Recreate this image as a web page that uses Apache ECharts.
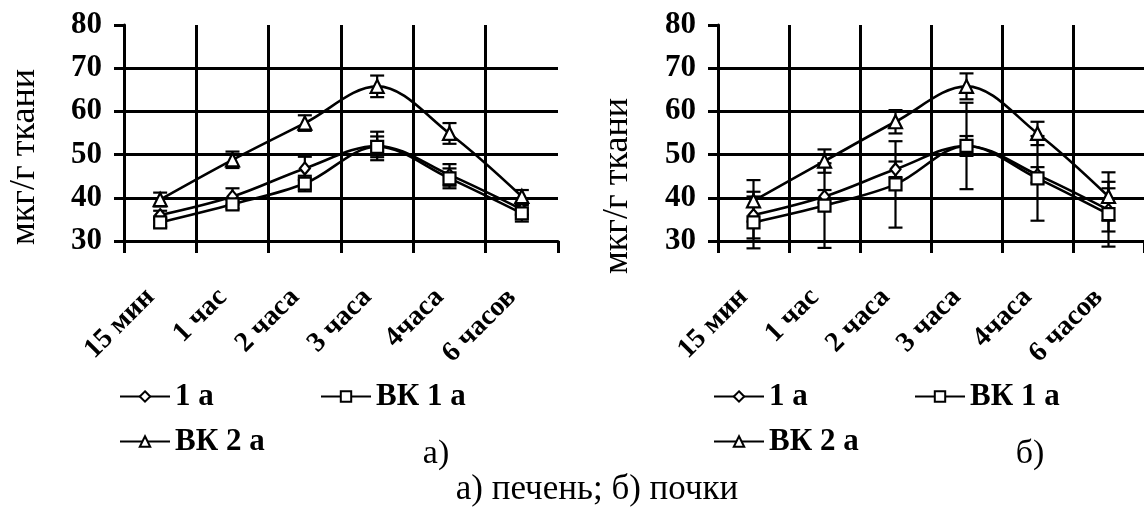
<!DOCTYPE html>
<html><head><meta charset="utf-8">
<script src="https://cdn.jsdelivr.net/npm/echarts@6/dist/echarts.min.js"></script>
<style>html,body{margin:0;padding:0;background:#fff}#c{width:1144px;height:508px}</style>
</head><body><div id="c"></div>
<script>
const categories = ['15 мин', '1 час', '2 часа', '3 часа', '4часа', '6 часов'];
const seriesNames = ['1 а', 'ВК 1 а', 'ВК 2 а'];
const yTicks = [30, 40, 50, 60, 70, 80];
// а) печень
const liver1a = [36, 40.3, 46.8, 52, 45.3, 37.3];
const liver1aErr = [1, 1.9, 2.7, 3.3, 2.5, 1.2];
const liverVK1a = [34.3, 38.5, 43.3, 51.8, 44.5, 36.4];
const liverVK1aErr = [1, 1, 1.8, 2.4, 2.3, 1.9];
const liverVK2a = [39.6, 48.8, 57.3, 65.8, 54.9, 40.3];
const liverVK2aErr = [1.6, 1.9, 1.8, 2.5, 2.4, 1.5];
// б) почки
const kidney1a = [36, 40.3, 46.6, 52, 45.3, 37.2];
const kidney1aErr = [5.4, 1.5, 1.8, 2.3, 1.8, 5];
const kidneyVK1a = [34.3, 38.2, 43.1, 52, 44.5, 36.2];
const kidneyVK1aErr = [6, 9.8, 10, 10, 9.8, 7.5];
const kidneyVK2a = [39.3, 48.5, 57.6, 65.8, 54.9, 40.3];
const kidneyVK2aErr = [4.8, 2.7, 2.7, 3, 2.7, 5.6];

const FONT = 'Liberation Serif';
const symbols = ['diamond', 'rect', 'triangle'];
const symSizes = [[10, 12], 12, 13];

function errData(vals, errs) { return vals.map((v, i) => [i, v - errs[i], v + errs[i]]); }

function errSeries(gi, vals, errs) {
  return {
    type: 'custom', xAxisIndex: gi, yAxisIndex: gi, z: 1, silent: true,
    data: errData(vals, errs), encode: { x: 0, y: [1, 2] },
    renderItem: function (params, api) {
      const lo = api.coord([api.value(0), api.value(1)]);
      const hi = api.coord([api.value(0), api.value(2)]);
      const w = 7;
      const st = { stroke: '#000', lineWidth: 2.2, fill: null };
      return { type: 'group', children: [
        { type: 'line', shape: { x1: lo[0], y1: lo[1], x2: hi[0], y2: hi[1] }, style: st },
        { type: 'line', shape: { x1: lo[0] - w, y1: lo[1], x2: lo[0] + w, y2: lo[1] }, style: st },
        { type: 'line', shape: { x1: hi[0] - w, y1: hi[1], x2: hi[0] + w, y2: hi[1] }, style: st }
      ] };
    }
  };
}

function lineSeries(gi, k, vals) {
  return {
    type: 'line', name: seriesNames[k], xAxisIndex: gi, yAxisIndex: gi, z: 3,
    data: vals, smooth: 0.35, symbol: symbols[k], symbolSize: symSizes[k],
    showAllSymbol: true,
    lineStyle: { color: '#000', width: 2.6 },
    itemStyle: { color: '#fff', borderColor: '#000', borderWidth: 2.2 }
  };
}

function xAxis(gi) {
  return {
    type: 'category', gridIndex: gi, data: categories, boundaryGap: true,
    axisLine: { show: true, lineStyle: { color: '#000', width: 3 } },
    axisTick: { show: true, length: 12, lineStyle: { color: '#000', width: 3 } },
    splitLine: { show: true, lineStyle: { color: ['#000', '#000', '#000', '#000', '#000', '#000', 'rgba(0,0,0,0)'], width: 3 } },
    axisLabel: { rotate: 45, margin: 62, verticalAlign: 'bottom', interval: 0, color: '#000', fontFamily: FONT, fontWeight: 'bold', fontSize: 28 }
  };
}
function yAxis(gi) {
  return {
    type: 'value', gridIndex: gi, min: yTicks[0], max: yTicks[yTicks.length - 1], interval: 10,
    axisLine: { show: true, lineStyle: { color: '#000', width: 3 } },
    axisTick: { show: true, length: 10, lineStyle: { color: '#000', width: 3 } },
    splitLine: { show: true, lineStyle: { color: ['#000', '#000', '#000', '#000', '#000', 'rgba(0,0,0,0)'], width: 3 } },
    axisLabel: { margin: 22, color: '#000', fontFamily: FONT, fontWeight: 'bold', fontSize: 31 }
  };
}

const legendText = { color: '#000', fontFamily: FONT, fontWeight: 'bold', fontSize: 31 };
function legend(name, left, top) {
  return { data: [name], left: left, top: top, padding: 0, itemWidth: 50, itemHeight: 13, itemGap: 6,
    textStyle: legendText, selectedMode: false };
}

const option = {
  animation: false,
  backgroundColor: '#fff',
  grid: [
    { left: 124, top: 25, width: 434, height: 216 },
    { left: 718, top: 25, width: 436, height: 216 }
  ],
  xAxis: [xAxis(0), xAxis(1)],
  yAxis: [yAxis(0), yAxis(1)],
  legend: [
    legend('1 а', 119, 381), legend('ВК 1 а', 320, 381), legend('ВК 2 а', 119, 426),
    legend('1 а', 713, 381), legend('ВК 1 а', 914, 381), legend('ВК 2 а', 713, 426)
  ],
  series: [
    errSeries(0, liver1a, liver1aErr), errSeries(0, liverVK1a, liverVK1aErr), errSeries(0, liverVK2a, liverVK2aErr),
    lineSeries(0, 0, liver1a), lineSeries(0, 1, liverVK1a), lineSeries(0, 2, liverVK2a),
    errSeries(1, kidney1a, kidney1aErr), errSeries(1, kidneyVK1a, kidneyVK1aErr), errSeries(1, kidneyVK2a, kidneyVK2aErr),
    lineSeries(1, 0, kidney1a), lineSeries(1, 1, kidneyVK1a), lineSeries(1, 2, kidneyVK2a)
  ],
  graphic: [
    { type: 'text', x: 25, y: 157, rotation: Math.PI / 2, style: { text: 'мкг/г ткани', font: '36px "Liberation Serif"', fill: '#000', align: 'center', verticalAlign: 'middle' } },
    { type: 'text', x: 618, y: 186, rotation: Math.PI / 2, style: { text: 'мкг/г ткани', font: '36px "Liberation Serif"', fill: '#000', align: 'center', verticalAlign: 'middle' } },
    { type: 'text', x: 436, y: 454, style: { text: 'а)', font: '34px "Liberation Serif"', fill: '#000', align: 'center', verticalAlign: 'middle' } },
    { type: 'text', x: 1030, y: 454, style: { text: 'б)', font: '34px "Liberation Serif"', fill: '#000', align: 'center', verticalAlign: 'middle' } },
    { type: 'text', x: 597, y: 490, style: { text: 'а) печень; б) почки', font: '35px "Liberation Serif"', fill: '#000', align: 'center', verticalAlign: 'middle' } }
  ]
};
const chart = echarts.init(document.getElementById('c'), null, { renderer: 'canvas' });
chart.setOption(option);
</script>
</body></html>
